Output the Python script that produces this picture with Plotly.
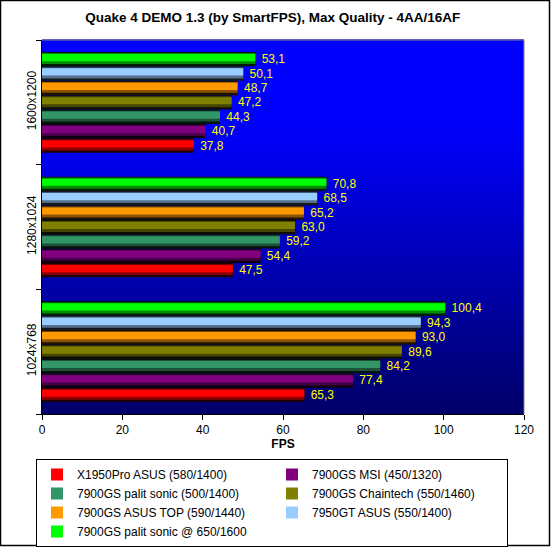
import plotly.graph_objects as go

categories = ["1024x768", "1280x1024", "1600x1200"]
series_names = [
    "X1950Pro ASUS (580/1400)",
    "7900GS MSI (450/1320)",
    "7900GS palit sonic (500/1400)",
    "7900GS Chaintech (550/1460)",
    "7900GS ASUS TOP (590/1440)",
    "7950GT ASUS (550/1400)",
    "7900GS palit sonic @ 650/1600",
]
x1950pro_asus = [65.3, 47.5, 37.8]
gs_msi = [77.4, 54.4, 40.7]
gs_palit = [84.2, 59.2, 44.3]
gs_chaintech = [89.6, 63.0, 47.2]
gs_asus_top = [93.0, 65.2, 48.7]
gt_asus = [94.3, 68.5, 50.1]
gs_palit_oc = [100.4, 70.8, 53.1]
series_values = [x1950pro_asus, gs_msi, gs_palit, gs_chaintech, gs_asus_top, gt_asus, gs_palit_oc]
series_colors = [
    (255, 0, 0), (128, 0, 128), (51, 150, 102), (128, 128, 0),
    (255, 153, 0), (153, 204, 255), (0, 255, 0),
]
x_ticks = [0, 20, 40, 60, 80, 100, 120]

FW, FH = 551, 547
ML, MR, MT, MB = 42, 27, 40, 133
PW, PH = FW - ML - MR, FH - MT - MB

def px_x(p):
    return (p - ML) / PW

def px_y(p):
    return (FH - MB - p) / PH

def rgb(c, k=1.0):
    return "rgb(%d,%d,%d)" % tuple(int(max(0, min(255, v * k))) for v in c)

FONT = "Liberation Sans, Arial, sans-serif"
group_w = 0.808
n = len(series_names)
bw = group_w / n

fig = go.Figure()
for i, (name, vals, col) in enumerate(zip(series_names, series_values, series_colors)):
    off = -group_w / 2 + i * bw
    labels = ["\u00a0" + ("%.1f" % v).replace(".", ",") for v in vals]
    # dark full-width base (carries the label)
    fig.add_trace(go.Bar(
        y=categories, x=vals, orientation="h", name=name, showlegend=False,
        offset=off, width=bw, marker=dict(color=rgb(col, 0.12), line=dict(width=0)),
        text=labels, textposition="outside", cliponaxis=False, constraintext="none",
        textfont=dict(color="#FFFF00", size=12, family=FONT), hoverinfo="skip",
    ))
    fig.add_trace(go.Bar(
        y=categories, x=vals, orientation="h", name=name, showlegend=False,
        offset=off + 0.16 * bw, width=0.76 * bw,
        marker=dict(color=rgb(col, 0.55), line=dict(width=0)), hoverinfo="skip",
    ))
    fig.add_trace(go.Bar(
        y=categories, x=vals, orientation="h", name=name, showlegend=True,
        offset=off + 0.36 * bw, width=0.5 * bw,
        marker=dict(color=rgb(col, 1.0), line=dict(width=0)),
    ))

shapes = []
N = 90
for k in range(N):
    f = (k + 0.5) / N  # fraction from top
    if f < 0.22:
        b = 255
    else:
        b = 255 - (f - 0.22) / 0.78 * 150
    shapes.append(dict(type="rect", xref="x domain", yref="y domain",
                       x0=0, x1=1, y0=1 - (k + 1) / N, y1=1 - k / N + 0.002,
                       fillcolor="rgb(0,0,%d)" % int(b), line=dict(width=0), layer="below"))
# gray top & right border of plot area
shapes.append(dict(type="line", xref="x domain", yref="y domain", x0=0, x1=1, y0=1, y1=1,
                   line=dict(color="#808080", width=1), layer="above"))
shapes.append(dict(type="line", xref="x domain", yref="y domain", x0=1, x1=1, y0=0, y1=1,
                   line=dict(color="#808080", width=1), layer="above"))
# outer frame
shapes.append(dict(type="rect", xref="paper", yref="paper",
                   x0=px_x(0.5), x1=px_x(549.5), y0=px_y(545.5), y1=px_y(0.5),
                   line=dict(color="black", width=1.5), fillcolor="rgba(0,0,0,0)", layer="above"))

fig.update_layout(
    width=FW, height=FH,
    margin=dict(l=ML, r=MR, t=MT, b=MB, autoexpand=False),
    paper_bgcolor="white", plot_bgcolor="rgb(0,0,105)",
    barmode="overlay",
    font=dict(family=FONT, size=12, color="black"),
    title=dict(text="<b>Quake 4 DEMO 1.3 (by SmartFPS), Max Quality - 4AA/16AF</b>",
               x=0.495, xanchor="center", y=1 - 17 / FH, yanchor="middle",
               font=dict(size=13.5, family=FONT, color="black")),
    xaxis=dict(range=[0, 120], tickvals=x_ticks, ticktext=[str(t) for t in x_ticks],
               showgrid=False, zeroline=False, showline=True, linecolor="black", linewidth=1,
               ticks="outside", ticklen=5, tickcolor="black",
               title=dict(text="<b>FPS</b>", standoff=2, font=dict(size=12, family=FONT))),
    yaxis=dict(type="category", categoryorder="array", categoryarray=categories,
               range=[-0.5, 2.5], showgrid=False, zeroline=False,
               showline=True, linecolor="black", linewidth=1,
               ticks="outside", ticklen=5, tickcolor="black", tickson="boundaries",
               tickangle=-90),
    legend=dict(orientation="h", x=px_x(36), xanchor="left", y=px_y(459), yanchor="top",
                entrywidth=190, entrywidthmode="pixels",
                bordercolor="black", borderwidth=1, bgcolor="white",
                font=dict(size=12, family=FONT), tracegroupgap=0),
    shapes=shapes,
    showlegend=True,
)

fig.write_html("out.html", config={"displayModeBar": False},
               post_script="document.body.style.margin='0px';document.body.style.padding='0px';")
